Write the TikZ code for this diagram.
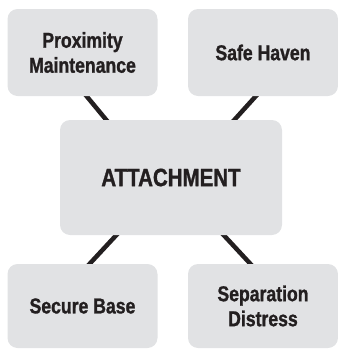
\documentclass[tikz,border=0pt]{standalone}
\usepackage{fontspec}
\newfontfamily\boxfont[FakeStretch=0.82, BoldFeatures={FakeBold=1.2}]{Liberation Sans}
\usetikzlibrary{calc}
\pgfdeclarelayer{back}
\pgfsetlayers{back,main}
\definecolor{boxgray}{RGB}{225,226,228}
\definecolor{ink}{RGB}{35,31,32}

\begin{document}
\begin{tikzpicture}[x=1pt, y=-1pt,
  theme/.style={fill=boxgray, rounded corners=10pt, align=center, text=ink,
    inner sep=0pt, font=\boxfont\bfseries\fontsize{21.5}{25}\selectfont},
  outer/.style={theme, minimum width=150, minimum height=87},
  link/.style={draw=ink, line width=4.5pt}]
\useasboundingbox (0,0) rectangle (338,349);

\node[outer] (prox) at (82.5,52.5) {Proximity\\Maintenance};
\node[outer] (haven) at (263,52.5) {Safe Haven};
\node[theme, minimum width=222, minimum height=115,
  font=\boxfont\bfseries\fontsize{25}{30}\selectfont] (attach) at (171,177.5) {ATTACHMENT};
\node[outer, minimum height=84] (base) at (82.5,306) {Secure Base};
\node[outer, minimum height=84] (distress) at (263,306) {Separation\\Distress};

\begin{pgfonlayer}{back}
\draw[link]
	($(prox.south)+(-2.5,-8)$) -- ($(attach.north west)+(53,8)$)
	($(haven.south)+(0,-8)$) -- ($(attach.north east)+(-55,8)$)
	($(attach.south west)+(62,-6)$) -- ($(base.north)+(2.5,5)$)
	($(attach.south east)+(-64,-6)$) -- ($(distress.north)+(-8,5)$)
;
\end{pgfonlayer}
\end{tikzpicture}
\end{document}
